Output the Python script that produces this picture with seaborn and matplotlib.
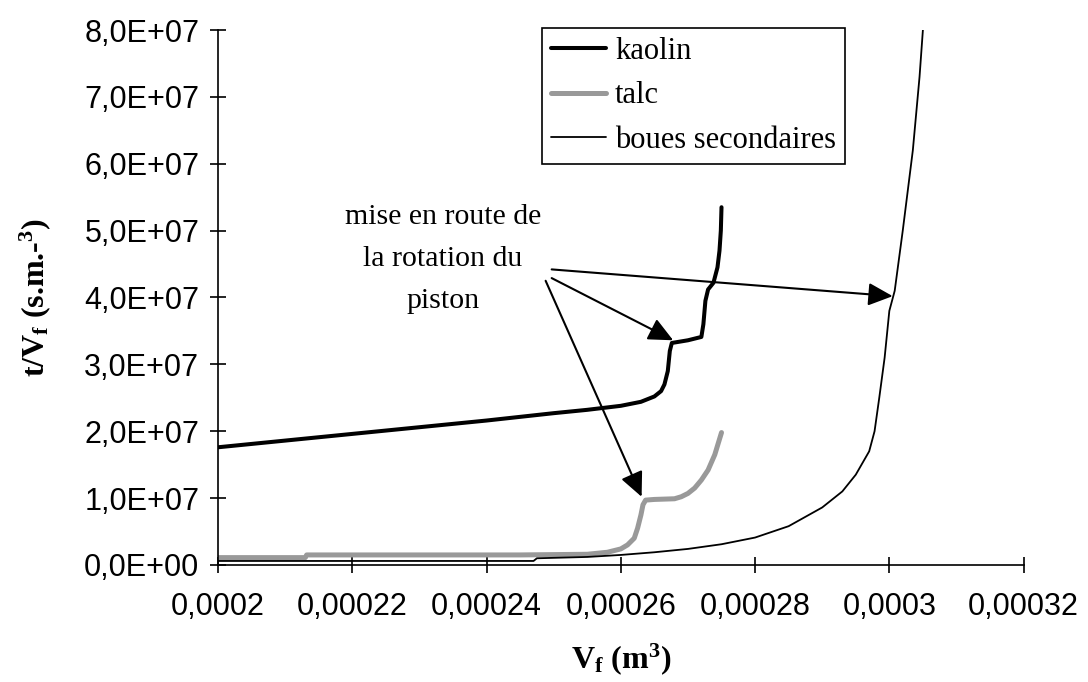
import numpy as np
import pandas as pd
import matplotlib
matplotlib.use('Agg')
import matplotlib.pyplot as plt
import seaborn as sns

# values (V_f in m3, t/V_f in s.m-3)
kaolin_x = [0.0002, 0.00021, 0.00022, 0.00023, 0.00024, 0.00025, 0.000255, 0.00026,
            0.000263, 0.000265, 0.000266, 0.0002665, 0.000267, 0.0002673, 0.0002676,
            0.00027, 0.000272, 0.0002723, 0.0002726, 0.000273, 0.0002738, 0.0002744,
            0.0002747, 0.0002749, 0.000275]
kaolin_y = [1.76e7, 1.86e7, 1.96e7, 2.06e7, 2.16e7, 2.27e7, 2.32e7, 2.38e7,
            2.44e7, 2.52e7, 2.6e7, 2.7e7, 2.9e7, 3.2e7, 3.32e7,
            3.36e7, 3.41e7, 3.6e7, 3.95e7, 4.12e7, 4.22e7, 4.45e7,
            4.7e7, 5.0e7, 5.35e7]

talc_x = [0.0002, 0.000213, 0.0002132, 0.000245, 0.000255, 0.000258, 0.00026, 0.000261,
          0.000262, 0.0002625, 0.000263, 0.0002633, 0.0002637, 0.000265, 0.000268,
          0.000269, 0.00027, 0.000271, 0.000272, 0.000273, 0.000274, 0.000275]
talc_y = [1.1e6, 1.1e6, 1.5e6, 1.5e6, 1.6e6, 1.9e6, 2.4e6, 3.0e6,
          4.0e6, 5.5e6, 7.5e6, 9.0e6, 9.7e6, 9.8e6, 9.9e6,
          1.02e7, 1.07e7, 1.15e7, 1.27e7, 1.42e7, 1.65e7, 1.98e7]

boues_x = [0.0002, 0.000247, 0.0002475, 0.000255, 0.00026, 0.000265, 0.00027, 0.000275,
           0.00028, 0.000285, 0.00029, 0.000293, 0.000295, 0.000297, 0.0002978,
           0.0002985, 0.0002993, 0.0003, 0.0003008, 0.000302, 0.0003035, 0.0003045, 0.000305]
boues_y = [6e5, 6e5, 1.0e6, 1.2e6, 1.5e6, 1.9e6, 2.4e6, 3.1e6,
           4.1e6, 5.8e6, 8.6e6, 1.1e7, 1.35e7, 1.7e7, 2.0e7,
           2.5e7, 3.1e7, 3.8e7, 4.1e7, 5.0e7, 6.2e7, 7.3e7, 8.0e7]

series_labels = ['kaolin', 'talc', 'boues secondaires']

x_ticks = [0.0002, 0.00022, 0.00024, 0.00026, 0.00028, 0.0003, 0.00032]
x_ticklabels = ['0,0002', '0,00022', '0,00024', '0,00026', '0,00028', '0,0003', '0,00032']
y_ticks = [0, 1e7, 2e7, 3e7, 4e7, 5e7, 6e7, 7e7, 8e7]
y_ticklabels = ['0,0E+00', '1,0E+07', '2,0E+07', '3,0E+07', '4,0E+07',
                '5,0E+07', '6,0E+07', '7,0E+07', '8,0E+07']

note_text = 'mise en route de\nla rotation du\npiston'

sns.set_theme(style='white')
plt.rcParams['font.family'] = ['Liberation Sans', 'DejaVu Sans']
plt.rcParams['text.color'] = 'black'
plt.rcParams['axes.labelcolor'] = 'black'
plt.rcParams['mathtext.fontset'] = 'custom'
plt.rcParams['mathtext.rm'] = 'Liberation Serif'
plt.rcParams['mathtext.it'] = 'Liberation Serif:italic'
plt.rcParams['mathtext.bf'] = 'Liberation Serif:bold'

fig = plt.figure(figsize=(10.88, 6.82), dpi=100)
ax = fig.add_axes([0.2004, 0.1716, 0.7404, 0.7844])

sns.lineplot(x=kaolin_x, y=kaolin_y, ax=ax, color='black', lw=2.9,
             estimator=None, sort=False, label=series_labels[0])
sns.lineplot(x=talc_x, y=talc_y, ax=ax, color='#999999', lw=3.6,
             estimator=None, sort=False, label=series_labels[1])
sns.lineplot(x=boues_x, y=boues_y, ax=ax, color='black', lw=1.3,
             estimator=None, sort=False, label=series_labels[2])

ax.set_xlim(0.0002, 0.00032)
ax.set_ylim(0, 8e7)
ax.set_xticks(x_ticks)
ax.set_xticklabels(x_ticklabels)
ax.set_yticks(y_ticks)
ax.set_yticklabels(y_ticklabels)

sns.despine(ax=ax)
for side in ['left', 'bottom']:
    ax.spines[side].set_color('black')
    ax.spines[side].set_linewidth(1.2)
ax.tick_params(axis='both', bottom=True, left=True, direction='inout', length=11,
               width=1.2, color='black', labelsize=22, labelcolor='black')
ax.tick_params(axis='x', pad=14)
ax.tick_params(axis='y', pad=8)

ax.set_xlabel(r'V$_\mathbf{f}$ (m$^\mathbf{3}$)', family='Liberation Serif',
              fontweight='bold', fontsize=23, labelpad=14)
ax.set_ylabel(r't/V$_\mathbf{f}$ (s.m.-$^\mathbf{3}$)', family='Liberation Serif',
              fontweight='bold', fontsize=23, labelpad=22)

leg = ax.legend(loc='upper left', bbox_to_anchor=(0.402, 1.004), borderaxespad=0,
                prop={'family': 'Liberation Serif', 'size': 22},
                frameon=True, fancybox=False, framealpha=1, edgecolor='black',
                handlelength=1.8, handletextpad=0.3, labelspacing=0.5,
                borderpad=0.3)
leg.get_frame().set_linewidth(1.2)
for t in leg.get_texts():
    t.set_color('black')

ax.text(0.0002335, 4.58e7, note_text, ha='center', va='center', fontsize=21.5,
        family='Liberation Serif', linespacing=1.8, color='black')

arrow_style = dict(arrowstyle='-|>,head_length=0.6,head_width=0.28', color='black',
                   lw=1.5, mutation_scale=25, shrinkA=0, shrinkB=0)
ax.annotate('', xy=(0.0003005, 4.02e7), xytext=(0.0002497, 4.42e7), arrowprops=arrow_style)
ax.annotate('', xy=(0.0002678, 3.36e7), xytext=(0.0002497, 4.29e7), arrowprops=arrow_style)
ax.annotate('', xy=(0.0002631, 1.02e7), xytext=(0.0002488, 4.25e7), arrowprops=arrow_style)

fig.savefig('out.png', dpi=100)
